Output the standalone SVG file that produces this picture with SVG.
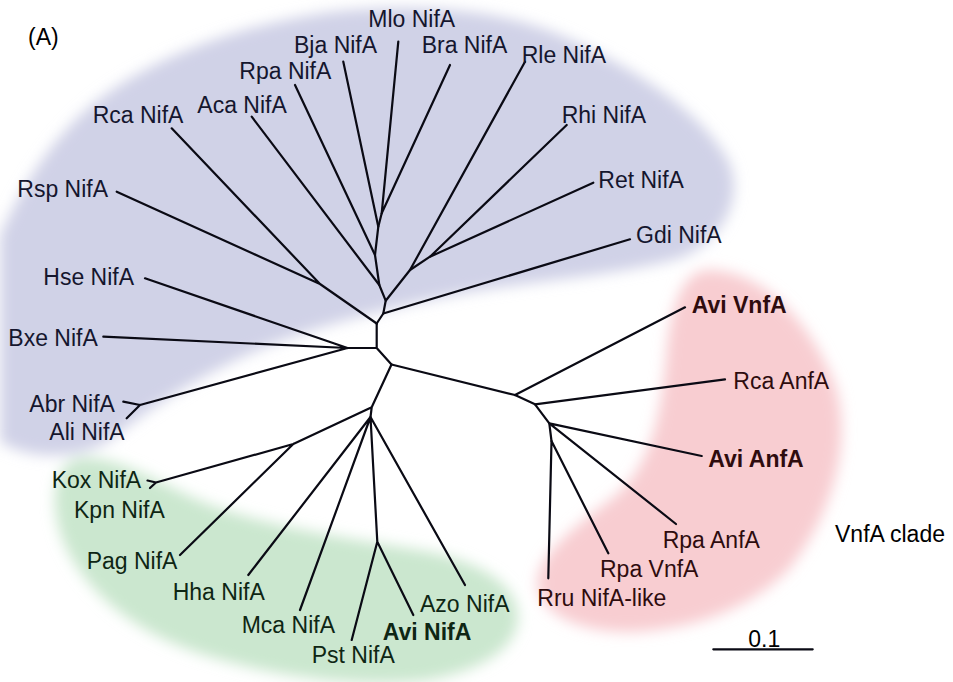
<svg xmlns="http://www.w3.org/2000/svg" width="953" height="682" viewBox="0 0 953 682">
<defs>
<filter id="soft" x="-20%" y="-20%" width="140%" height="140%"><feGaussianBlur stdDeviation="7"/></filter>
<style>
text{font-family:"Liberation Sans",Arial,sans-serif;font-size:23px;fill:#000}
.b{fill:#15162e}.g{fill:#0e2614}.r{fill:#2e0c0e}
.bold{font-weight:bold}
#connectors path{fill:none;stroke:#0a0a14;stroke-width:2.2;stroke-linecap:round;stroke-linejoin:round}
</style>
</defs>
<rect width="953" height="682" fill="#fff"/>
<g id="regions" filter="url(#soft)">
<path id="region-nifa-blue" fill="#d0d2e7" d="M0,442 L0,236 C20,190 55,130 105,95 C160,55 240,25 330,12 C420,2 500,10 560,35 C630,65 700,110 728,160 C745,195 725,240 680,258 C620,275 540,280 470,292 C400,305 330,322 270,345 C210,370 160,400 110,440 C80,460 30,460 0,442 Z"/>
<path id="region-nifa-green" fill="#cbe7cf" d="M80,458 C120,455 160,485 210,505 C280,530 360,540 430,552 C490,565 520,590 518,620 C515,650 480,670 430,680 C360,690 260,675 190,650 C120,625 70,575 58,525 C50,490 58,462 80,458 Z"/>
<path id="region-vnfa-red" fill="#f8cdd1" d="M705,270 C760,268 810,320 835,385 C852,440 835,510 790,568 C750,610 690,630 630,632 C580,632 545,615 538,590 C532,560 570,530 610,500 C650,470 660,420 666,360 C670,310 680,275 705,270 Z"/>
</g>
<g id="connectors">
<path d="M376.7,323.5 L376.7,348 M376.7,348 L347.5,348 M376.7,348 L391.5,364.5"/>
<path d="M376.7,323.5 L383.3,313.5 L385.7,300.7 L379.3,285 L375,255 L378.3,226.7 L381.7,213.3"/>
<path d="M385.7,300.7 L410,270 L430,256.7"/>
<path d="M383.3,313.5 L630,239.3"/>
<path d="M376.7,323.5 L320,284 M320,284 L171.7,128.3 M320,284 L116.7,191.7"/>
<path d="M379.3,285 L251.7,116.7 M375,255 L295,85 M378.3,226.7 L343.3,61.7 M381.7,213.3 L398.3,41.7 M381.7,213.3 L450,65"/>
<path d="M410,270 L525,61.7 M430,256.7 L566.7,125 M430,256.7 L593.3,182.7"/>
<path d="M347.5,348 L145,278.3 M347.5,348 L103.3,336.7 M347.5,348 L140,405 M140,405 L123.3,401.7 M140,405 L126.7,418.3"/>
<path d="M391.5,364.5 L515,395 L535,404.3 L549.3,423.3 L551.5,441"/>
<path d="M515,395 L685,307.3 M535,404.3 L725,379.3 M549.3,423.3 L701.7,456 M549.3,423.3 L676,524 M551.5,441 L548.3,578.3 M551.5,441 L608.3,553.3"/>
<path d="M391.5,364.5 L371.7,407.3 L370.5,417 M371.7,407.3 L293.3,444 L156,482.5 M156,482.5 L147.5,480.5 M156,482.5 L150,488 M293.3,444 L180,555"/>
<path d="M370.5,417 L248.3,575 M370.5,417 L300,610 M370.5,417 L377.3,541.7 M377.3,541.7 L351.7,640 M377.3,541.7 L413.3,615 M370.5,417 L465,585"/>
<path d="M713.3,649.3 L812.7,649.3"/>
</g>
<g id="label-A"><text x="28" y="45">(A)</text></g>
<g id="node-Rca-NifA"><text class="b" x="92.7" y="122.7">Rca NifA</text></g>
<g id="node-Aca-NifA"><text class="b" x="197.3" y="113.3">Aca NifA</text></g>
<g id="node-Rpa-NifA"><text class="b" x="239.3" y="79.3">Rpa NifA</text></g>
<g id="node-Bja-NifA"><text class="b" x="294" y="53.3">Bja NifA</text></g>
<g id="node-Mlo-NifA"><text class="b" x="368.3" y="27.3">Mlo NifA</text></g>
<g id="node-Bra-NifA"><text class="b" x="421.7" y="53.3">Bra NifA</text></g>
<g id="node-Rle-NifA"><text class="b" x="521.7" y="62.7">Rle NifA</text></g>
<g id="node-Rhi-NifA"><text class="b" x="561.7" y="122.7">Rhi NifA</text></g>
<g id="node-Ret-NifA"><text class="b" x="598.3" y="187.5">Ret NifA</text></g>
<g id="node-Gdi-NifA"><text class="b" x="636" y="242.7">Gdi NifA</text></g>
<g id="node-Rsp-NifA"><text class="b" x="17.3" y="196.7">Rsp NifA</text></g>
<g id="node-Hse-NifA"><text class="b" x="43.3" y="285">Hse NifA</text></g>
<g id="node-Bxe-NifA"><text class="b" x="8.3" y="346">Bxe NifA</text></g>
<g id="node-Abr-NifA"><text class="b" x="29.3" y="411.7">Abr NifA</text></g>
<g id="node-Ali-NifA"><text class="b" x="49.3" y="440">Ali NifA</text></g>
<g id="node-Kox-NifA"><text class="g" x="51.7" y="488.3">Kox NifA</text></g>
<g id="node-Kpn-NifA"><text class="g" x="74" y="518.3">Kpn NifA</text></g>
<g id="node-Pag-NifA"><text class="g" x="86.7" y="569.3">Pag NifA</text></g>
<g id="node-Hha-NifA"><text class="g" x="172.7" y="600">Hha NifA</text></g>
<g id="node-Mca-NifA"><text class="g" x="241.7" y="633.3">Mca NifA</text></g>
<g id="node-Pst-NifA"><text class="g" x="311.7" y="663.3">Pst NifA</text></g>
<g id="node-Avi-NifA"><text class="g bold" x="382.7" y="640">Avi NifA</text></g>
<g id="node-Azo-NifA"><text class="g" x="420" y="611.7">Azo NifA</text></g>
<g id="node-Avi-VnfA"><text class="r bold" x="691.7" y="312.7">Avi VnfA</text></g>
<g id="node-Rca-AnfA"><text class="r" x="733.3" y="389.3">Rca AnfA</text></g>
<g id="node-Avi-AnfA"><text class="r bold" x="708.3" y="466.7">Avi AnfA</text></g>
<g id="node-Rpa-AnfA"><text class="r" x="662.7" y="548.3">Rpa AnfA</text></g>
<g id="node-Rpa-VnfA"><text class="r" x="600" y="577">Rpa VnfA</text></g>
<g id="node-Rru-NifA-like"><text class="r" x="537.3" y="605.7">Rru NifA-like</text></g>
<g id="label-VnfA-clade"><text x="835" y="541.7">VnfA clade</text></g>
<g id="scale-bar"><text x="748.3" y="647">0.1</text></g>
</svg>
